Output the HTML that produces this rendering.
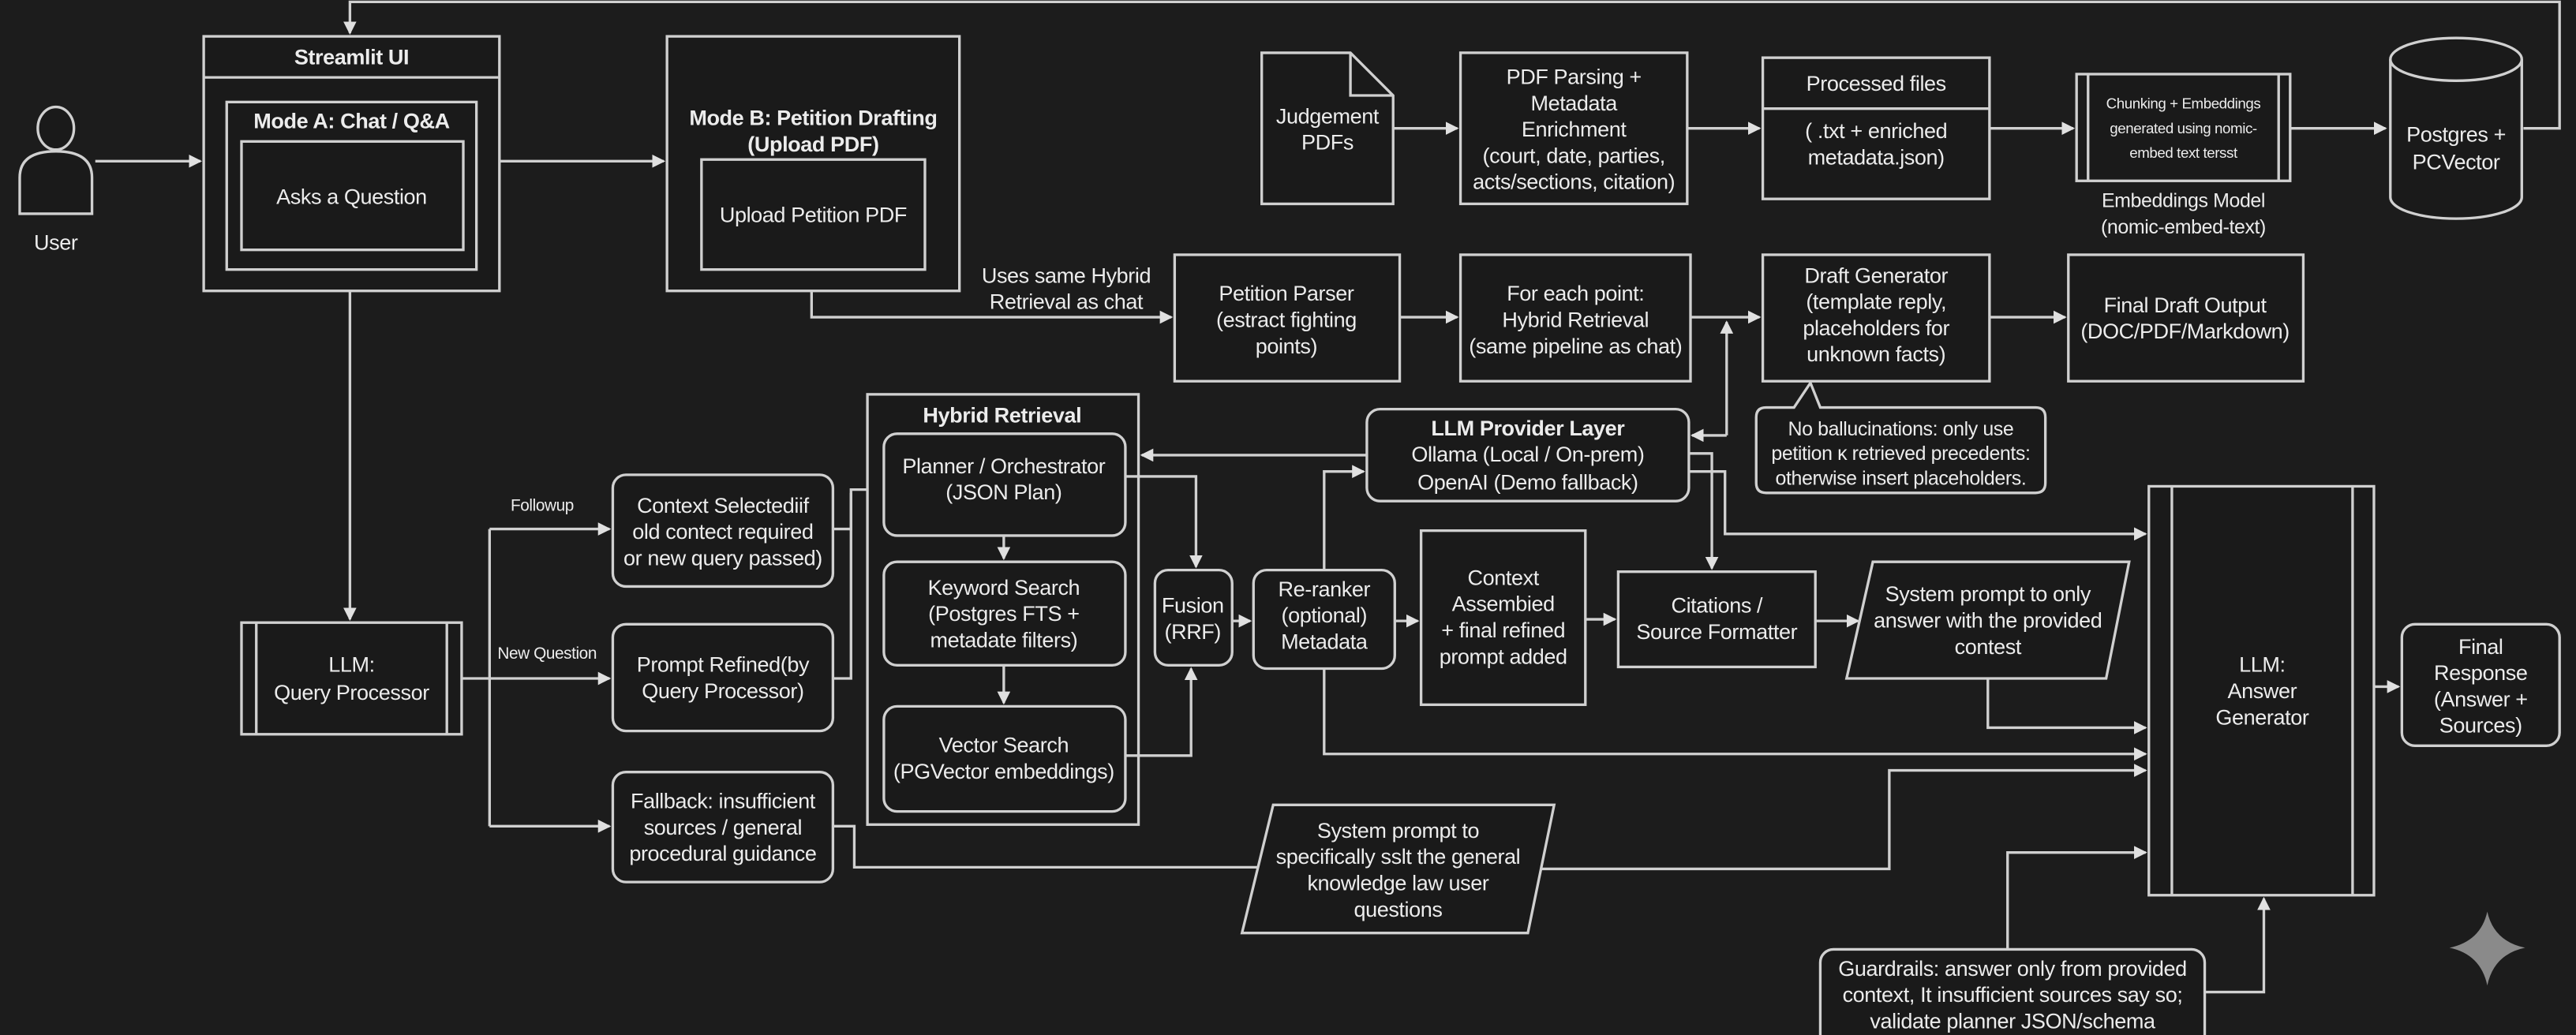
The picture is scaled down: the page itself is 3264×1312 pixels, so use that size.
<!DOCTYPE html>
<html><head><meta charset="utf-8"><style>
html,body{margin:0;padding:0;background:#1c1c1c;}
svg{display:block;}
text{font-family:"Liberation Sans Narrow","Liberation Sans",sans-serif;fill:#ececec;font-size:13px;letter-spacing:-0.2px;text-anchor:middle;}
.b{font-weight:bold;}
.s{font-size:9px;}
.box{fill:#1a1a1a;stroke:#d0d0d0;stroke-width:1.6;}
.ln{fill:none;stroke:#d0d0d0;stroke-width:1.6;}
</style></head><body>
<svg width="3264" height="1312" viewBox="0 0 1568 630" xmlns="http://www.w3.org/2000/svg">
<defs><marker id="a" markerWidth="8" markerHeight="8" refX="7" refY="4" orient="auto" markerUnits="userSpaceOnUse"><path d="M0,0 L8,4 L0,8 Z" fill="#e0e0e0"/></marker></defs>
<rect width="1568" height="630" fill="#1c1c1c"/>

<path class="ln" d="M1536,78 H1558 V1 H213 V20" marker-end="url(#a)"/>

<ellipse cx="34" cy="78" rx="11" ry="13" class="box"/>
<path class="box" d="M12,130 V108 Q12,92 34,92 Q56,92 56,108 V130 Z"/>
<text x="34" y="152">User</text>
<path class="ln" d="M58,98 H122" marker-end="url(#a)"/>

<rect class="box" x="124" y="22" width="180" height="155"/>
<line class="ln" x1="124" y1="47" x2="304" y2="47"/>
<text class="b" x="214" y="39">Streamlit UI</text>
<rect class="box" x="138" y="62" width="152" height="102"/>
<text class="b" x="214" y="78">Mode A: Chat / Q&amp;A</text>
<rect class="box" x="147" y="86" width="135" height="66"/>
<text x="214" y="124">Asks a Question</text>
<path class="ln" d="M304,98 H404" marker-end="url(#a)"/>

<rect class="box" x="406" y="22" width="178" height="155"/>
<text class="b" x="495" y="76">Mode B: Petition Drafting</text>
<text class="b" x="495" y="92">(Upload PDF)</text>
<rect class="box" x="427" y="97" width="136" height="67"/>
<text x="495" y="135">Upload Petition PDF</text>
<path class="ln" d="M494,177 V193 H713" marker-end="url(#a)"/>
<text x="649" y="172">Uses same Hybrid</text>
<text x="649" y="188">Retrieval as chat</text>

<rect class="box" x="715" y="155" width="137" height="77"/>
<text x="783" y="183">Petition Parser</text><text x="783" y="199">(estract fighting</text><text x="783" y="215">points)</text>
<path class="ln" d="M852,193 H887" marker-end="url(#a)"/>
<rect class="box" x="889" y="155" width="140" height="77"/>
<text x="959" y="183">For each point:</text><text x="959" y="199">Hybrid Retrieval</text><text x="959" y="215">(same pipeline as chat)</text>
<path class="ln" d="M1029,193 H1071" marker-end="url(#a)"/>
<path class="ln" d="M1051,265 V196" marker-end="url(#a)"/>
<path class="ln" d="M1051,265 H1030" marker-end="url(#a)"/>
<rect class="box" x="1073" y="155" width="138" height="77"/>
<text x="1142" y="172">Draft Generator</text><text x="1142" y="188">(template reply,</text><text x="1142" y="204">placeholders for</text><text x="1142" y="220">unknown facts)</text>
<path class="ln" d="M1211,193 H1257" marker-end="url(#a)"/>
<rect class="box" x="1259" y="155" width="143" height="77"/>
<text x="1330" y="190">Final Draft Output</text><text x="1330" y="206">(DOC/PDF/Markdown)</text>
<path class="box" d="M1075,248 H1092 L1102,233 L1108,248 H1239 Q1245,248 1245,254 V294 Q1245,300 1239,300 H1075 Q1069,300 1069,294 V254 Q1069,248 1075,248 Z"/>
<text x="1157" y="265" style="font-size:12px">No ballucinations: only use</text>
<text x="1157" y="280" style="font-size:12px">petition ĸ retrieved precedents:</text>
<text x="1157" y="295" style="font-size:12px">otherwise insert placeholders.</text>

<path class="box" d="M768,32 H822 L848,58 V124 H768 Z"/>
<path class="ln" d="M822,32 V58 H848"/>
<text x="808" y="75">Judgement</text><text x="808" y="91">PDFs</text>
<path class="ln" d="M848,78 H887" marker-end="url(#a)"/>
<rect class="box" x="889" y="32" width="138" height="92"/>
<text x="958" y="51">PDF Parsing +</text><text x="958" y="67">Metadata</text><text x="958" y="83">Enrichment</text><text x="958" y="99">(court, date, parties,</text><text x="958" y="115">acts/sections, citation)</text>
<path class="ln" d="M1027,78 H1071" marker-end="url(#a)"/>
<rect class="box" x="1073" y="35" width="138" height="86"/>
<line class="ln" x1="1073" y1="66" x2="1211" y2="66"/>
<text x="1142" y="55">Processed files</text><text x="1142" y="84">( .txt + enriched</text><text x="1142" y="100">metadata.json)</text>
<path class="ln" d="M1211,78 H1262" marker-end="url(#a)"/>
<rect class="box" x="1264" y="45" width="130" height="65"/>
<line class="ln" x1="1271" y1="45" x2="1271" y2="110"/><line class="ln" x1="1387" y1="45" x2="1387" y2="110"/>
<text class="s" x="1329" y="66">Chunking + Embeddings</text><text class="s" x="1329" y="81">generated using nomic-</text><text class="s" x="1329" y="96">embed text tersst</text>
<text x="1329" y="126" style="font-size:12px">Embeddings Model</text><text x="1329" y="142" style="font-size:12px">(nomic-embed-text)</text>
<path class="ln" d="M1394,78 H1452" marker-end="url(#a)"/>
<path class="box" d="M1455,36 V120 A40,13 0 0 0 1535,120 V36"/>
<ellipse class="box" cx="1495" cy="36" rx="40" ry="13"/>
<text x="1495" y="86">Postgres +</text><text x="1495" y="103">PCVector</text>

<path class="ln" d="M213,177 V377" marker-end="url(#a)"/>
<rect class="box" x="147" y="379" width="134" height="68"/>
<line class="ln" x1="156" y1="379" x2="156" y2="447"/><line class="ln" x1="272" y1="379" x2="272" y2="447"/>
<text x="214" y="409">LLM:</text><text x="214" y="426">Query Processor</text>
<path class="ln" d="M281,413 H298"/>
<path class="ln" d="M298,322 V503"/>
<path class="ln" d="M298,322 H371" marker-end="url(#a)"/>
<path class="ln" d="M298,413 H371" marker-end="url(#a)"/>
<path class="ln" d="M298,503 H371" marker-end="url(#a)"/>
<text x="330" y="311" style="font-size:10px">Followup</text>
<text x="333" y="401" style="font-size:10px">New Question</text>
<rect class="box" x="373" y="289" width="134" height="68" rx="8"/>
<text x="440" y="312">Context Selectediif</text><text x="440" y="328">old contect required</text><text x="440" y="344">or new query passed)</text>
<rect class="box" x="373" y="380" width="134" height="65" rx="8"/>
<text x="440" y="409">Prompt Refined(by</text><text x="440" y="425">Query Processor)</text>
<rect class="box" x="373" y="470" width="134" height="67" rx="8"/>
<text x="440" y="492">Fallback: insufficient</text><text x="440" y="508">sources / general</text><text x="440" y="524">procedural guidance</text>
<path class="ln" d="M507,322 H518 V298 H536" marker-end="url(#a)"/>
<path class="ln" d="M507,413 H518 V300"/>

<rect class="box" x="528" y="240" width="165" height="262"/>
<text class="b" x="610" y="257">Hybrid Retrieval</text>
<rect class="box" x="538" y="264" width="147" height="62" rx="8"/>
<text x="611" y="288">Planner / Orchestrator</text><text x="611" y="304">(JSON Plan)</text>
<path class="ln" d="M611,326 V340" marker-end="url(#a)"/>
<rect class="box" x="538" y="342" width="147" height="63" rx="8"/>
<text x="611" y="362">Keyword Search</text><text x="611" y="378">(Postgres FTS +</text><text x="611" y="394">metadate filters)</text>
<path class="ln" d="M611,405 V428" marker-end="url(#a)"/>
<rect class="box" x="538" y="430" width="147" height="64" rx="8"/>
<text x="611" y="458">Vector Search</text><text x="611" y="474">(PGVector embeddings)</text>
<path class="ln" d="M685,290 H728 V345" marker-end="url(#a)"/>
<path class="ln" d="M685,460 H725 V407" marker-end="url(#a)"/>
<rect class="box" x="703" y="347" width="47" height="58" rx="8"/>
<text x="726" y="373">Fusion</text><text x="726" y="389">(RRF)</text>
<path class="ln" d="M750,378 H761" marker-end="url(#a)"/>
<rect class="box" x="763" y="347" width="86" height="60" rx="8"/>
<text x="806" y="363">Re-ranker</text><text x="806" y="379">(optional)</text><text x="806" y="395">Metadata</text>
<path class="ln" d="M849,378 H863" marker-end="url(#a)"/>
<rect class="box" x="865" y="323" width="100" height="106"/>
<text x="915" y="356">Context</text><text x="915" y="372">Assembied</text><text x="915" y="388">+ final refined</text><text x="915" y="404">prompt added</text>
<path class="ln" d="M965,377 H983" marker-end="url(#a)"/>
<rect class="box" x="985" y="348" width="120" height="58"/>
<text x="1045" y="373">Citations /</text><text x="1045" y="389">Source Formatter</text>
<path class="ln" d="M1105,378 H1131" marker-end="url(#a)"/>
<path class="box" d="M1140,342 H1296 L1282,413 H1124 Z"/>
<text x="1210" y="366">System prompt to only</text><text x="1210" y="382">answer with the provided</text><text x="1210" y="398">contest</text>

<rect class="box" x="832" y="249" width="196" height="56" rx="8"/>
<text class="b" x="930" y="265">LLM Provider Layer</text><text x="930" y="281">Ollama (Local / On-prem)</text><text x="930" y="298">OpenAI (Demo fallback)</text>
<path class="ln" d="M832,277 H695" marker-end="url(#a)"/>
<path class="ln" d="M806,347 V287 H830" marker-end="url(#a)"/>
<path class="ln" d="M1028,276 H1042 V346" marker-end="url(#a)"/>
<path class="ln" d="M1028,287 H1050 V325 H1306" marker-end="url(#a)"/>
<path class="ln" d="M1210,413 V443 H1306" marker-end="url(#a)"/>
<path class="ln" d="M806,407 V459 H1306" marker-end="url(#a)"/>

<path class="ln" d="M507,503 H520 V528 H766"/>
<path class="box" d="M775,490 H946 L930,568 H756 Z"/>
<text x="851" y="510">System prompt to</text><text x="851" y="526">specifically sslt the general</text><text x="851" y="542">knowledge law user</text><text x="851" y="558">questions</text>
<path class="ln" d="M938,529 H1150 V469 H1306" marker-end="url(#a)"/>

<rect class="box" x="1108" y="578" width="234" height="60" rx="8"/>
<text x="1225" y="594">Guardrails: answer only from provided</text><text x="1225" y="610">context, It insufficient sources say so;</text><text x="1225" y="626">validate planner JSON/schema</text>
<path class="ln" d="M1222,578 V519 H1306" marker-end="url(#a)"/>
<path class="ln" d="M1342,604 H1378 V547" marker-end="url(#a)"/>

<rect class="box" x="1308" y="296" width="137" height="249"/>
<line class="ln" x1="1322" y1="296" x2="1322" y2="545"/><line class="ln" x1="1432" y1="296" x2="1432" y2="545"/>
<text x="1377" y="409">LLM:</text><text x="1377" y="425">Answer</text><text x="1377" y="441">Generator</text>
<path class="ln" d="M1445,418 H1460" marker-end="url(#a)"/>
<rect class="box" x="1462" y="380" width="96" height="74" rx="8"/>
<text x="1510" y="398">Final</text><text x="1510" y="414">Response</text><text x="1510" y="430">(Answer +</text><text x="1510" y="446">Sources)</text>

<path d="M1514,555 Q1518,573 1537,577 Q1518,581 1514,600 Q1510,581 1491,577 Q1510,573 1514,555 Z" fill="#8a8a8a"/>
</svg>
</body></html>
